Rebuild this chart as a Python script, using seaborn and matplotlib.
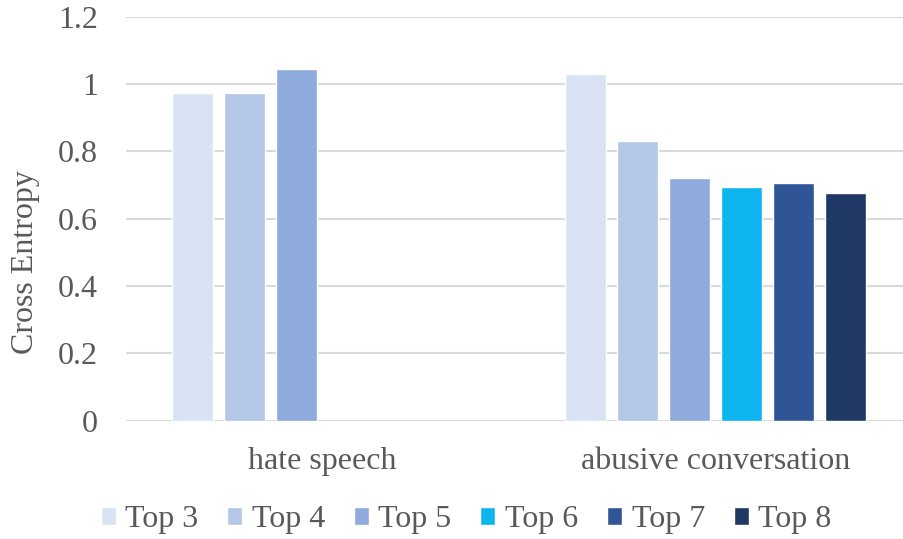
import matplotlib
matplotlib.use("Agg")
import matplotlib.pyplot as plt
import seaborn as sns
import pandas as pd
import numpy as np

categories = ["hate speech", "abusive conversation"]
series = ["Top 3", "Top 4", "Top 5", "Top 6", "Top 7", "Top 8"]
hate_speech = [0.972, 0.972, 1.046, np.nan, np.nan, np.nan]
abusive_conversation = [1.031, 0.830, 0.722, 0.693, 0.705, 0.676]
colors = ["#DAE3F3", "#B4C7E7", "#8FAADC", "#0DB5F0", "#2F5597", "#203864"]
y_ticks = [0, 0.2, 0.4, 0.6, 0.8, 1.0, 1.2]
y_tick_labels = ["0", "0.2", "0.4", "0.6", "0.8", "1", "1.2"]

rows = []
for cat, vals in zip(categories, [hate_speech, abusive_conversation]):
    for s, v in zip(series, vals):
        rows.append({"category": cat, "series": s, "value": v})
df = pd.DataFrame(rows)

sns.set_theme(style="white")
plt.rcParams["font.family"] = ["Liberation Serif", "DejaVu Serif"]
text_color = "#595959"
fs = 23

W, H = 904, 539
fig = plt.figure(figsize=(W / 100, H / 100), dpi=100)
left, right, top, bottom = 126, 912, 16.7, 420.7
ax = fig.add_axes([left / W, 1 - bottom / H, (right - left) / W, (bottom - top) / H])

sns.barplot(data=df, x="category", y="value", hue="series", hue_order=series,
            palette=colors, width=0.794, gap=0.21, ax=ax, saturation=1,
            errorbar=None, legend=True)

ax.set_ylim(0, 1.2)
ax.set_xlim(-0.5, 1.5)
ax.set_yticks(y_ticks)
ax.set_yticklabels(y_tick_labels)
ax.yaxis.grid(True, color="#D9D9D9", linewidth=1.5)
ax.set_axisbelow(True)
for side in ["top", "right", "left", "bottom"]:
    ax.spines[side].set_visible(False)
ax.tick_params(axis="y", length=0, pad=20, labelsize=fs, labelcolor=text_color)
ax.tick_params(axis="x", length=0, pad=19, labelsize=fs, labelcolor=text_color)
ax.set_xlabel("")
ax.set_ylabel("")
fig.text(26 / W, 1 - 262 / H, "Cross Entropy", rotation=90, ha="center",
         va="center", fontsize=fs, color=text_color)

handles, labels = ax.get_legend_handles_labels()
ax.get_legend().remove()
fig.legend(handles, labels, loc="center", bbox_to_anchor=(466 / W, 1 - 520 / H),
           ncol=6, frameon=False, fontsize=fs, labelcolor=text_color,
           handlelength=0.47, handleheight=0.47, handletextpad=0.3,
           columnspacing=0.9, borderaxespad=0, borderpad=0)

fig.savefig("out.png", dpi=100)
